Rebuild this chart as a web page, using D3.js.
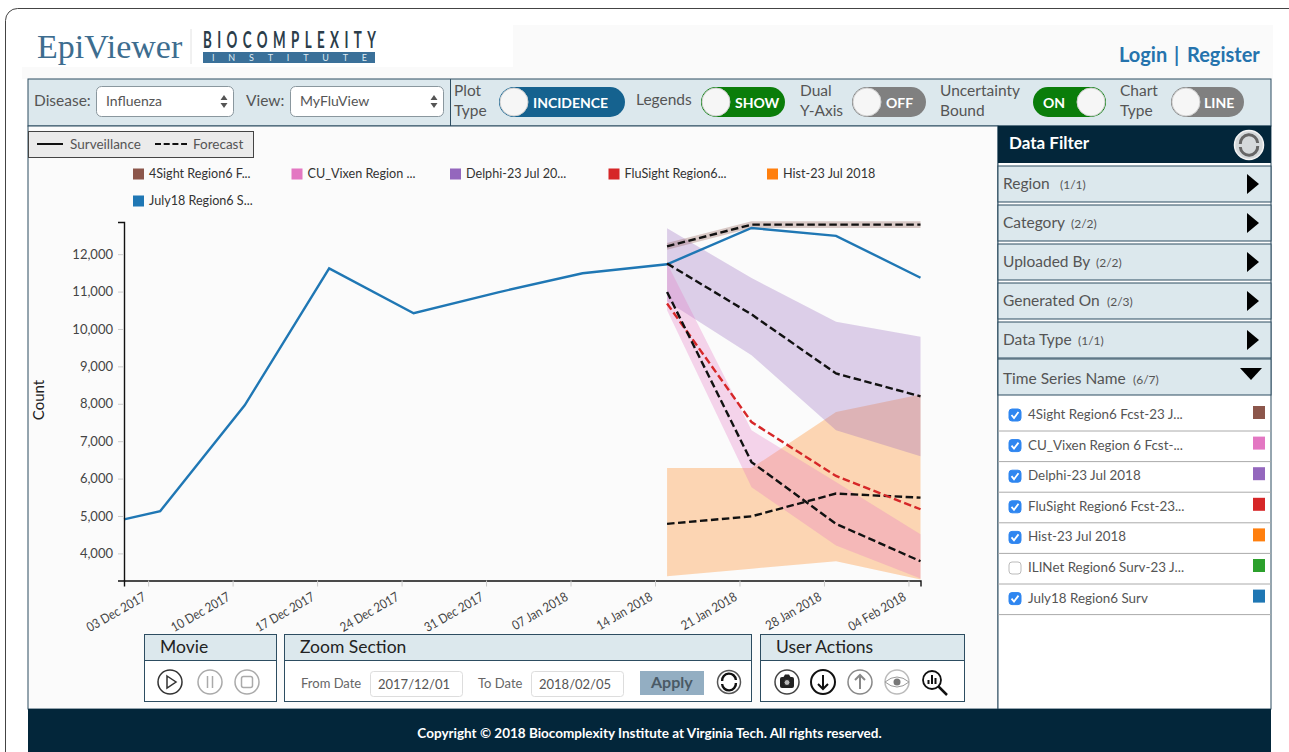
<!DOCTYPE html>
<html>
<head>
<meta charset="utf-8">
<title>EpiViewer</title>
<script src="https://cdnjs.cloudflare.com/ajax/libs/d3/7.8.5/d3.min.js"></script>
<style>
html, body { margin: 0; padding: 0; background: #fff; overflow: hidden; }
svg { display: block; }
text { font-family: Lato, "Open Sans", sans-serif; fill: #444; }
</style>
</head>
<body>
<svg id="page" width="1289" height="752"></svg>
<script>
// chart data
var surveillanceDates = ['2017-12-01', '2017-12-04', '2017-12-11', '2017-12-18', '2017-12-25', '2018-01-01', '2018-01-08', '2018-01-15', '2018-01-22', '2018-01-29', '2018-02-05'];
var surveillanceValues = [4910, 5130, 7960, 11620, 10420, 10980, 11490, 11730, 12700, 12490, 11370];

var forecastDates = ['2018-01-15', '2018-01-22', '2018-01-29', '2018-02-05'];

var sightMean = [12210, 12790, 12790, 12790];
var sightUpper = [12300, 12880, 12880, 12880];
var sightLower = [12120, 12700, 12700, 12700];

var vixenMean = [10990, 6440, 4790, 3790];
var vixenUpper = [11760, 7290, 5910, 4510];
var vixenLower = [10500, 5770, 4210, 3330];

var delphiMean = [11750, 10390, 8810, 8200];
var delphiUpper = [12690, 11360, 10190, 9790];
var delphiLower = [10740, 9300, 7290, 6600];

var flusightMean = [10680, 7510, 6070, 5180];

var histMean = [4790, 4990, 5600, 5490];
var histUpper = [6280, 6280, 7780, 8250];
var histLower = [3390, 3590, 3790, 3300];

var xTickDates = ['2017-12-03', '2017-12-10', '2017-12-17', '2017-12-24', '2017-12-31', '2018-01-07', '2018-01-14', '2018-01-21', '2018-01-28', '2018-02-04'];
var yTickValues = [4000, 5000, 6000, 7000, 8000, 9000, 10000, 11000, 12000];

var legendNames = ['4Sight Region6 F...', 'CU_Vixen Region ...', 'Delphi-23 Jul 20...', 'FluSight Region6...', 'Hist-23 Jul 2018', 'July18 Region6 S...'];
var legendColors = ['#8c564b', '#e377c2', '#9467bd', '#d62728', '#ff7f0e', '#1f77b4'];

var filterNames = ['Region', 'Category', 'Uploaded By', 'Generated On', 'Data Type', 'Time Series Name'];
var filterCounts = ['(1/1)', '(2/2)', '(2/2)', '(2/3)', '(1/1)', '(6/7)'];

var seriesNames = ['4Sight Region6 Fcst-23 J...', 'CU_Vixen Region 6 Fcst-...', 'Delphi-23 Jul 2018', 'FluSight Region6 Fcst-23...', 'Hist-23 Jul 2018', 'ILINet Region6 Surv-23 J...', 'July18 Region6 Surv'];
var seriesColors = ['#8c564b', '#e377c2', '#9467bd', '#d62728', '#ff7f0e', '#2ca02c', '#1f77b4'];
var seriesChecked = [true, true, true, true, true, false, true];

var parseDate = d3.timeParse('%Y-%m-%d');
var formatTick = d3.timeFormat('%d %b %Y');
var navy = '#03263a', panel = '#dce8ed', edge = '#2d4d61';

var svg = d3.select('#page');

function rect(g, x, y, w, h, fill, stroke, rx) {
    return g.append('rect').attr('x', x).attr('y', y).attr('width', w).attr('height', h)
        .attr('fill', fill).attr('stroke', stroke || 'none').attr('rx', rx || 0);
}
function label(g, x, y, str, size, color, weight) {
    return g.append('text').attr('x', x).attr('y', y).text(str)
        .style('font-size', size + 'px').style('fill', color || '#444').style('font-weight', weight || 400);
}

// page frame
rect(svg, 5.5, 8.5, 1300, 780, '#fff', '#444', 12);
rect(svg, 22, 25, 1251, 54, '#fafafa');
rect(svg, 22, 25, 491, 42, '#fff');

// logos
label(svg, 37, 58, 'EpiViewer', 34, '#3d6d8f').style('font-family', '"Liberation Serif", serif');
svg.append('line').attr('x1', 191).attr('x2', 191).attr('y1', 29).attr('y2', 64).attr('stroke', '#e2e2e2');
svg.append('text').attr('transform', 'translate(203,48) scale(0.58,1)').text('BIOCOMPLEXITY')
    .attr('textLength', 298).attr('lengthAdjust', 'spacing')
    .style('font-size', '23px').style('font-weight', 700).style('fill', '#2b3d4a');
rect(svg, 203, 52, 172, 11, '#3a7099');
label(svg, 212, 61, 'INSTITUTE', 9, '#dfe9f0').attr('textLength', 155).attr('lengthAdjust', 'spacing');

label(svg, 1119, 62, 'Login', 20, '#2573ad', 700);
label(svg, 1174, 62, '|', 20, '#2573ad', 700);
label(svg, 1187, 62, 'Register', 20, '#2573ad', 700);

// toolbar
var bar = svg.append('g');
rect(bar, 28, 79, 1243, 47, panel, edge);
bar.append('line').attr('x1', 450.5).attr('x2', 450.5).attr('y1', 79).attr('y2', 126).attr('stroke', edge);

function selectBox(x, w, labelX, name, value) {
    label(bar, labelX, 106, name, 15.5, '#555');
    rect(bar, x + 0.5, 86.5, w, 30, '#fff', '#8a979e', 5);
    label(bar, x + 10, 106, value, 14, '#555');
    var ax = x + w - 9;
    bar.append('path').attr('d', 'M' + (ax - 3.5) + ',100 L' + (ax + 3.5) + ',100 L' + ax + ',95 Z M' + (ax - 3.5) + ',103 L' + (ax + 3.5) + ',103 L' + ax + ',108 Z').attr('fill', '#555');
}
selectBox(96, 137, 34, 'Disease:', 'Influenza');
selectBox(290, 153, 246, 'View:', 'MyFluView');

function toggle(x, w, color, text, knobRight, textX) {
    rect(bar, x, 87, w, 30, color, null, 15);
    var kx = knobRight ? x + w - 15 : x + 15;
    bar.append('circle').attr('cx', kx).attr('cy', 102).attr('r', 14).attr('fill', '#f6f6f6').attr('stroke', '#d0d0d0');
    label(bar, textX, 108, text, 14, '#fff', 700);
}
toggle(499, 126, '#15628f', 'INCIDENCE', false, 533);
toggle(701, 84, '#0a7d0a', 'SHOW', false, 735);
toggle(852, 74, '#808080', 'OFF', false, 886);
toggle(1033, 73, '#0a7d0a', 'ON', true, 1043);
toggle(1171, 73, '#808080', 'LINE', false, 1204);

label(bar, 454, 96, 'Plot', 15.5, '#555');
label(bar, 454, 116, 'Type', 15.5, '#555');
label(bar, 636, 105, 'Legends', 15.5, '#555');
label(bar, 800, 96, 'Dual', 15.5, '#555');
label(bar, 800, 116, 'Y-Axis', 15.5, '#555');
label(bar, 940, 96, 'Uncertainty', 15.5, '#555');
label(bar, 940, 116, 'Bound', 15.5, '#555');
label(bar, 1120, 96, 'Chart', 15.5, '#555');
label(bar, 1120, 116, 'Type', 15.5, '#555');

// chart panel
rect(svg, 28, 126, 970, 583, '#fbfbfb', edge);
rect(svg, 28.5, 131.5, 225, 26, '#ebebeb', '#444');
svg.append('line').attr('x1', 37).attr('x2', 63).attr('y1', 144).attr('y2', 144).attr('stroke', '#111').attr('stroke-width', 2);
label(svg, 70, 149, 'Surveillance', 13.5, '#555');
svg.append('line').attr('x1', 155).attr('x2', 187).attr('y1', 144).attr('y2', 144).attr('stroke', '#111').attr('stroke-width', 2).attr('stroke-dasharray', '6,2.7');
label(svg, 193, 149, 'Forecast', 13.5, '#555');

// series legend
var legendItems = svg.append('g').selectAll('g').data(legendNames).enter().append('g')
    .attr('transform', function(d, i) {
        return i < 5 ? 'translate(' + (133 + i * 158.5) + ',174)' : 'translate(133,201)';
    });
legendItems.append('rect').attr('x', 0).attr('y', -5.5).attr('width', 11).attr('height', 11)
    .attr('fill', function(d, i) { return legendColors[i]; });
legendItems.append('text').attr('x', 16).attr('y', 4).text(function(d) { return d; })
    .style('font-size', '12.6px').style('fill', '#333');

// scales and axes
var x = d3.scaleTime().domain([parseDate('2017-12-01'), parseDate('2018-02-05')]).range([124, 920.5]);
var y = d3.scaleLinear().domain([3275, 12860]).range([580.5, 222]);

var areaGen = d3.area().x(function(d) { return x(d.date); })
    .y0(function(d) { return y(d.lower); }).y1(function(d) { return y(d.upper); });
var lineGen = d3.line().x(function(d) { return x(d.date); }).y(function(d) { return y(d.value); });

function bandRows(upper, lower) {
    return forecastDates.map(function(d, i) {
        return { date: parseDate(d), upper: upper[i], lower: lower[i] };
    });
}
function lineRows(dates, values) {
    return dates.map(function(d, i) {
        return { date: parseDate(d), value: values[i] };
    });
}

var chart = svg.append('g');

var bands = [
    { rows: bandRows(histUpper, histLower), color: '#ff7f0e' },
    { rows: bandRows(delphiUpper, delphiLower), color: '#9467bd' },
    { rows: bandRows(vixenUpper, vixenLower), color: '#e377c2' },
    { rows: bandRows(sightUpper, sightLower), color: '#8c564b' }
];
chart.selectAll('path.band').data(bands).enter().append('path').attr('class', 'band')
    .attr('d', function(d) { return areaGen(d.rows); })
    .attr('fill', function(d) { return d.color; }).attr('fill-opacity', 0.3);

chart.append('path').attr('d', lineGen(lineRows(surveillanceDates, surveillanceValues)))
    .attr('fill', 'none').attr('stroke', '#1f77b4').attr('stroke-width', 2.4);

var forecasts = [
    { rows: lineRows(forecastDates, histMean), color: '#111' },
    { rows: lineRows(forecastDates, delphiMean), color: '#111' },
    { rows: lineRows(forecastDates, flusightMean), color: '#d62728' },
    { rows: lineRows(forecastDates, vixenMean), color: '#111' },
    { rows: lineRows(forecastDates, sightMean), color: '#111' }
];
chart.selectAll('path.fcst').data(forecasts).enter().append('path').attr('class', 'fcst')
    .attr('d', function(d) { return lineGen(d.rows); })
    .attr('fill', 'none').attr('stroke', function(d) { return d.color; })
    .attr('stroke-width', 2.4).attr('stroke-dasharray', '7.5,3.5');

var xAxis = d3.axisBottom(x).tickValues(xTickDates.map(parseDate)).tickFormat(formatTick).tickSize(6);
var gx = svg.append('g').attr('transform', 'translate(0,580.5)').call(xAxis);
gx.selectAll('.tick line').attr('stroke', '#ccc');
gx.select('.domain').attr('stroke', '#111').attr('stroke-width', 1.4);
gx.selectAll('.tick text').attr('text-anchor', 'end').attr('x', 0).attr('y', 0).attr('dy', 0)
    .attr('transform', 'translate(-2,19) rotate(-30) scale(0.88,1)')
    .style('font-size', '13px').style('fill', '#444');

var yAxis = d3.axisLeft(y).tickValues(yTickValues).tickFormat(d3.format(',')).tickSize(6);
var gy = svg.append('g').attr('transform', 'translate(124,0)').call(yAxis);
gy.selectAll('.tick line').attr('stroke', '#ccc');
gy.select('.domain').attr('stroke', '#111').attr('stroke-width', 1.4);
gy.selectAll('.tick text').attr('x', -11).style('font-size', '13px').style('fill', '#444');

svg.append('text').attr('transform', 'translate(44,400) rotate(-90)').attr('text-anchor', 'middle')
    .text('Count').style('font-size', '15px').style('fill', '#222');

// data filter panel
var filter = svg.append('g');
rect(filter, 998, 126, 273, 583, '#fff', edge);
rect(filter, 998, 126, 273, 37, navy);
label(filter, 1009, 149, 'Data Filter', 17, '#fff', 700);

function refreshIcon(g, cx, cy, r, fill, ringColor, arc, width) {
    g.append('circle').attr('cx', cx).attr('cy', cy).attr('r', r).attr('fill', fill).attr('stroke', ringColor).attr('stroke-width', 1.5);
    var a = r * 0.6;
    g.append('path').attr('d', 'M' + (cx - a) + ',' + (cy - 1) + ' A' + a + ',' + a + ' 0 0 1 ' + (cx + a) + ',' + (cy - 2)
        + ' M' + (cx + a) + ',' + (cy + 1) + ' A' + a + ',' + a + ' 0 0 1 ' + (cx - a) + ',' + (cy + 2))
        .attr('fill', 'none').attr('stroke', arc).attr('stroke-width', width);
}
refreshIcon(filter, 1249, 145, 14.5, '#d5d9db', '#f4f4f4', '#666', 3);

var filterRows = filter.selectAll('g.row').data(filterNames).enter().append('g').attr('class', 'row')
    .attr('transform', function(d, i) { return 'translate(998,' + (165 + i * 39) + ')'; });
filterRows.append('rect').attr('width', 273).attr('y', function(d, i) { return i === 5 ? -1 : 1; })
    .attr('height', 36)
    .attr('fill', panel).attr('stroke', edge);
filterRows.append('text').attr('x', 5).attr('y', 24).text(function(d) { return d; })
    .style('font-size', '15.5px').style('fill', '#555');
filterRows.append('text').attr('x', function(d, i) { return [62, 73, 98, 109, 80, 135][i]; }).attr('y', 24)
    .text(function(d, i) { return filterCounts[i]; }).style('font-size', '12px').style('fill', '#555');
filterRows.append('path')
    .attr('d', function(d, i) { return i === 5 ? 'M242,8 L264,8 L253,20 Z' : 'M249,9 L261,19 L249,29 Z'; })
    .attr('fill', '#000');

var listRows = filter.selectAll('g.item').data(seriesNames).enter().append('g').attr('class', 'item')
    .attr('transform', function(d, i) { return 'translate(998,' + (401 + i * 30.6) + ')'; });
listRows.append('line').attr('x1', 0).attr('x2', 273).attr('y1', 30).attr('y2', 30).attr('stroke', '#aaa');
listRows.append('rect').attr('x', 11).attr('y', 8).attr('width', 12).attr('height', 12).attr('rx', 3)
    .attr('fill', function(d, i) { return seriesChecked[i] ? '#2f86f0' : '#fff'; })
    .attr('stroke', function(d, i) { return seriesChecked[i] ? '#2f86f0' : '#bbb'; });
listRows.filter(function(d, i) { return seriesChecked[i]; }).append('path')
    .attr('d', 'M13.5,14 L16,17 L20.5,11').attr('fill', 'none').attr('stroke', '#fff').attr('stroke-width', 1.8);
listRows.append('text').attr('x', 30).attr('y', 18).text(function(d) { return d; })
    .style('font-size', '13.4px').style('fill', '#555');
listRows.append('rect').attr('x', 255).attr('y', 5).attr('width', 12).attr('height', 13)
    .attr('fill', function(d, i) { return seriesColors[i]; });

// bottom panels
var tools = svg.append('g');
function toolPanel(px, w, title) {
    rect(tools, px + 0.5, 634.5, w, 67, '#fff', edge);
    rect(tools, px + 0.5, 634.5, w, 26, panel, edge);
    label(tools, px + 16, 653, title, 17.5, '#222');
}
toolPanel(144, 132, 'Movie');
toolPanel(284, 467, 'Zoom Section');
toolPanel(760, 204, 'User Actions');

function ring(cx, color, width) {
    tools.append('circle').attr('cx', cx).attr('cy', 682).attr('r', 12).attr('fill', '#fff').attr('stroke', color).attr('stroke-width', width || 1.5);
}
ring(170, '#333');
tools.append('path').attr('d', 'M167,676 L176,682 L167,688 Z').attr('fill', 'none').attr('stroke', '#333').attr('stroke-width', 1.5);
ring(210, '#aaa');
tools.append('path').attr('d', 'M207.5,676 V688 M212.5,676 V688').attr('stroke', '#aaa').attr('stroke-width', 1.5);
ring(247, '#aaa');
rect(tools, 241.5, 676.5, 11, 11, 'none', '#aaa', 2).attr('stroke-width', 1.5);

label(tools, 301, 688, 'From Date', 13, '#666');
rect(tools, 370.5, 671.5, 92, 25, '#fff', '#ddd', 3);
label(tools, 378, 689, '2017/12/01', 13, '#555');
label(tools, 478, 688, 'To Date', 13, '#666');
rect(tools, 531.5, 671.5, 92, 25, '#fff', '#ddd', 3);
label(tools, 539, 689, '2018/02/05', 13, '#555');
rect(tools, 640, 671, 64, 24, '#93aec2');
label(tools, 651, 688, 'Apply', 16, '#4a5a66', 700);
refreshIcon(tools, 729, 682, 11.5, '#fff', '#555', '#111', 2.4);

ring(787, '#444');
rect(tools, 780, 677, 14, 11, '#222', null, 2);
tools.append('path').attr('d', 'M783.5,677 L785,674.5 H789 L790.5,677 Z').attr('fill', '#222');
tools.append('circle').attr('cx', 787).attr('cy', 682.5).attr('r', 3).attr('fill', '#bbb').attr('stroke', '#222');
ring(823, '#111', 2);
tools.append('path').attr('d', 'M823,675 V689 M818,684 L823,689 L828,684').attr('fill', 'none').attr('stroke', '#111').attr('stroke-width', 2);
ring(860, '#888');
tools.append('path').attr('d', 'M860,689 V675 M855,680 L860,675 L865,680').attr('fill', 'none').attr('stroke', '#888').attr('stroke-width', 2);
ring(897, '#bbb');
tools.append('path').attr('d', 'M885,682 Q897,672 909,682 Q897,692 885,682 Z').attr('fill', '#fff').attr('stroke', '#999');
tools.append('circle').attr('cx', 897).attr('cy', 682).attr('r', 3.5).attr('fill', '#777');
tools.append('circle').attr('cx', 932).attr('cy', 680).attr('r', 9).attr('fill', '#fff').attr('stroke', '#111').attr('stroke-width', 1.8);
tools.append('path').attr('d', 'M938.5,686.5 L947,695').attr('stroke', '#111').attr('stroke-width', 2.5);
tools.append('path').attr('d', 'M928.5,684 V680 M932,684 V675 M935.5,684 V678').attr('stroke', '#111').attr('stroke-width', 2);

// footer
rect(svg, 28, 709, 1243, 43, navy);
svg.append('text').attr('x', 649.5).attr('y', 738).attr('text-anchor', 'middle')
    .text('Copyright \u00a9 2018 Biocomplexity Institute at Virginia Tech. All rights reserved.')
    .style('font-size', '13.5px').style('font-weight', 700).style('fill', '#fff');
</script>
</body>
</html>
